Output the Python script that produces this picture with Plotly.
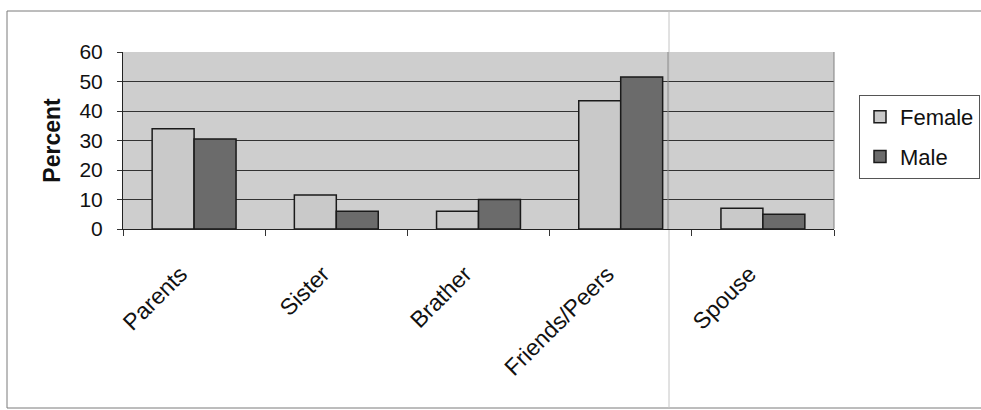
import plotly.graph_objects as go

categories = ["Parents", "Sister", "Brather", "Friends/Peers", "Spouse"]
female = [34, 11.5, 6, 43.5, 7]
male = [30.5, 6, 10, 51.5, 5]
series_names = ["Female", "Male"]
y_ticks = [0, 10, 20, 30, 40, 50, 60]

FONT = "Arial, Liberation Sans, sans-serif"
W, H = 981, 410
L, R, T, B = 123, 834, 52, 229  # plot area in px

fig = go.Figure()
fig.add_trace(go.Bar(
    x=categories, y=female, name=series_names[0], legendgroup="f",
    marker=dict(color="#c9c9c9", line=dict(color="#1a1a1a", width=1.5)),
))
fig.add_trace(go.Bar(
    x=categories, y=male, name=series_names[1], legendgroup="m",
    marker=dict(color="#6b6b6b", line=dict(color="#1a1a1a", width=1.5)),
))

def px_x(p):
    return (p - L) / (R - L)

def px_y(p):
    return (B - p) / (B - T)

# outer chart border (right edge cut off like the scan)
fig.add_shape(type="rect", xref="paper", yref="paper",
              x0=px_x(7), x1=px_x(1000), y0=px_y(408), y1=px_y(11),
              line=dict(color="#7a7a7a", width=1), layer="below")
# faint fold line from scan
fig.add_shape(type="line", xref="paper", yref="paper",
              x0=px_x(669), x1=px_x(669), y0=px_y(408), y1=px_y(11),
              line=dict(color="#c4c4c4", width=1), layer="below")
fig.add_shape(type="line", xref="paper", yref="paper",
              x0=px_x(668), x1=px_x(668), y0=0, y1=1,
              line=dict(color="#8a8a8a", width=1), layer="above")

fig.update_layout(
    width=W, height=H,
    margin=dict(l=L, r=W - R, t=T, b=H - B, pad=0, autoexpand=False),
    paper_bgcolor="white",
    plot_bgcolor="#cecece",
    barmode="group",
    bargap=0.41,
    bargroupgap=0,
    font=dict(family=FONT, color="#111111"),
    showlegend=True,
    legend=dict(
        x=px_x(859), y=px_y(95), xanchor="left", yanchor="top",
        bgcolor="white", bordercolor="#555555", borderwidth=1,
        font=dict(size=22, family=FONT, color="#111111"),
        tracegroupgap=8, itemwidth=30,
    ),
    xaxis=dict(
        type="category",
        tickangle=-45,
        tickmode="array",
        tickvals=categories,
        ticktext=[c + "\u00a0\u00a0\u00a0" for c in categories],
        tickfont=dict(size=23, family=FONT, color="#111111"),
        showline=True, linecolor="#222222", linewidth=1,
        ticks="outside", ticklen=6, tickcolor="#333333",
        tickson="boundaries",
        ticklabelstandoff=8,
        showgrid=False,
        mirror=False,
    ),
    yaxis=dict(
        range=[0, 60],
        tickvals=y_ticks,
        tickfont=dict(size=21, family=FONT, color="#111111"),
        showline=True, linecolor="#222222", linewidth=1,
        ticks="outside", ticklen=5, tickcolor="#333333",
        ticklabelstandoff=10,
        showgrid=True, gridcolor="#333333", gridwidth=1,
        zeroline=False,
        title=dict(text="<b>Percent</b>", font=dict(size=23, family=FONT, color="#111111"), standoff=12),
    ),
)
# right border of plot area
fig.add_shape(type="line", xref="paper", yref="paper", x0=1, x1=1, y0=0, y1=1,
              line=dict(color="#808080", width=1))

fig.write_html("out.html")
